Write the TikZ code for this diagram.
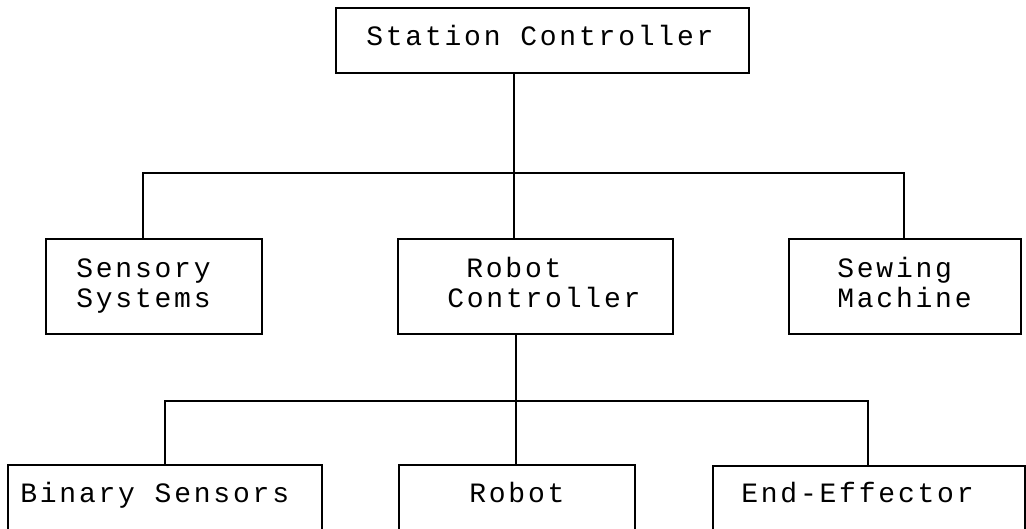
\documentclass[tikz,border=0pt]{standalone}
\usepackage{fontspec}
\newfontfamily\plotfont[LetterSpace=10]{Liberation Mono}
\begin{document}
\begin{tikzpicture}[x=0.75pt,y=-0.75pt,
  boxst/.style={draw, line width=1.1pt, inner sep=0pt, outer sep=0pt, rectangle},
  lbl/.style={inner sep=0pt, anchor=base west, font=\plotfont\fontsize{21pt}{24pt}\selectfont},
  conn/.style={line width=1.1pt}]
\useasboundingbox (0,0) rectangle (1026,529);
\newcommand\mybox[5]{\node[boxst, minimum width={(#4-#2)*0.75pt}, minimum height={(#5-#3)*0.75pt}] (#1) at ({(#2+#4)/2},{(#3+#5)/2}) {};}
\mybox{sc}{336}{8}{749}{73}
\mybox{ss}{46}{239}{262}{334}
\mybox{rc}{398}{239}{673}{334}
\mybox{sm}{789}{239}{1021}{334}
\mybox{bs}{8}{465}{322}{534}
\mybox{rb}{399}{465}{635}{534}
\mybox{ee}{713}{466}{1025}{534}
% labels
\node[lbl] (tsc) at (366,45) {Station Controller};
\node[lbl] (tss1) at (76,277) {Sensory};
\node[lbl] (tss2) at (76,307) {Systems};
\node[lbl] (trc1) at (466,277) {Robot};
\node[lbl] (trc2) at (447,307) {Controller};
\node[lbl] (tsm1) at (837,277) {Sewing};
\node[lbl] (tsm2) at (837,307) {Machine};
\node[lbl] (tbs) at (20,502) {Binary Sensors};
\node[lbl] (trb) at (469,502) {Robot};
\node[lbl] (tee) at (741,502) {End-Effector};
% connectors
\coordinate (j1) at (514,173);
\coordinate (jl) at (143,173);
\coordinate (jr) at (904,173);
\draw[conn] (sc.south -| j1) -- (j1);
\draw[conn] (jl |- ss.north) -- (jl) -- (jr) -- (jr |- sm.north);
\draw[conn] (j1) -- (j1 |- rc.north);
\coordinate (j2) at (516,401);
\coordinate (jl2) at (165,401);
\coordinate (jr2) at (868,401);
\draw[conn] (rc.south -| j2) -- (j2) -- (j2 |- rb.north);
\draw[conn] (jl2 |- bs.north) -- (jl2) -- (jr2) -- (jr2 |- ee.north);
\end{tikzpicture}
\end{document}
